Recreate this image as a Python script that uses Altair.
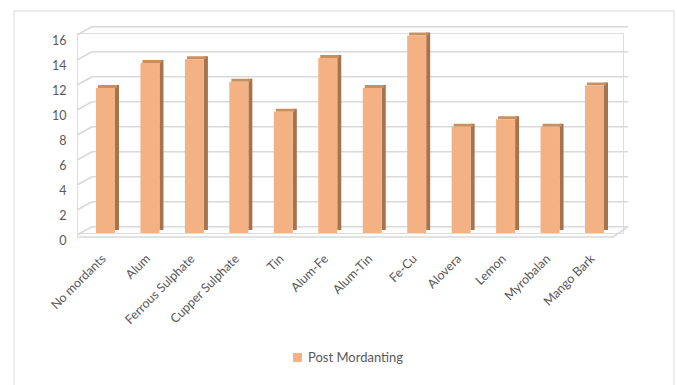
import altair as alt
import pandas as pd

categories = ["No mordants", "Alum", "Ferrous Sulphate", "Cupper Sulphate", "Tin",
              "Alum-Fe", "Alum-Tin", "Fe-Cu", "Alovera", "Lemon", "Myrobalan", "Mango Bark"]
values = [11.6, 13.6, 13.9, 12.1, 9.7, 14.0, 11.6, 15.8, 8.5, 9.1, 8.5, 11.8]
series_name = "Post Mordanting"
tick_values = [0, 2, 4, 6, 8, 10, 12, 14, 16]

df = pd.DataFrame({"cat": categories, "v": values, "series": [series_name] * len(categories)})
ticks = pd.DataFrame({"t": tick_values})
zero = pd.DataFrame({"t": [0]})
one = pd.DataFrame({"a": [1]})

FONT = "Lato"
L, T = 77, 33
W, H = 546, 200

yscale = alt.Scale(domain=[0, 16], nice=False, zero=True)
xscale = alt.Scale(domain=categories, paddingInner=0, paddingOuter=0.141)

yaxis = alt.Axis(values=tick_values, domain=False, ticks=False, grid=False,
                 labelPadding=11, labelOffset=7.5,
                 labelFont=FONT, labelFontSize=12.5, labelColor="#595959")
xaxis = alt.Axis(labelAngle=-45, domain=False, ticks=False, labelPadding=19, labelOffset=-6,
                 labelFont=FONT, labelFontSize=12.5, labelColor="#595959")

def Y(field):
    return alt.Y(field, scale=yscale, axis=yaxis, title=None)

def X():
    return alt.X("cat:N", scale=xscale, axis=xaxis, sort=categories, title=None)

border = alt.Chart(one).mark_rect(filled=False, stroke="#D9D9D9", strokeWidth=1).encode(
    x=alt.value(14 - L), x2=alt.value(674 - L), y=alt.value(11 - T), y2=alt.value(400 - T)
)

grid_back = alt.Chart(ticks).mark_rule(color="#D9D9D9", strokeWidth=1.6, yOffset=-6.3).encode(
    y=Y("t:Q"), x=alt.value(15), x2=alt.value(551),
)
grid_diag = alt.Chart(ticks).mark_rule(color="#D9D9D9", strokeWidth=1.6, yOffset=2, y2Offset=-6.3).encode(
    y=Y("t:Q"), y2="t:Q", x=alt.value(0), x2=alt.value(15),
)
floor_front = alt.Chart(zero).mark_rule(color="#D9D9D9", strokeWidth=1.6, yOffset=4).encode(
    y=Y("t:Q"), x=alt.value(0), x2=alt.value(536),
)
floor_right = alt.Chart(zero).mark_rule(color="#D9D9D9", strokeWidth=1.6, yOffset=4, y2Offset=-6.3).encode(
    y=Y("t:Q"), y2="t:Q", x=alt.value(536), x2=alt.value(551),
)

side = alt.Chart(df).mark_bar(color="#A5744D", width=4, xOffset=11.5, yOffset=-3, y2Offset=-3).encode(
    x=X(), y=Y("v:Q"), y2=alt.datum(0),
)
top = alt.Chart(df).mark_bar(color="#C8905F", width=19, xOffset=2, y2Offset=-3).encode(
    x=X(), y=Y("v:Q"), y2="v:Q",
)
front = alt.Chart(df).mark_bar(width=19).encode(
    x=X(), y=Y("v:Q"),
    color=alt.Color("series:N", scale=alt.Scale(range=["#F4B183"]),
                    legend=alt.Legend(orient="none", legendX=214, legendY=318, title=None,
                                      symbolType="square", symbolSize=81, symbolStrokeWidth=0,
                                      labelFont=FONT, labelFontSize=13, labelColor="#595959")),
)

chart = alt.layer(border, grid_back, grid_diag, floor_front, floor_right, side, top, front).properties(
    width=W, height=H,
    autosize=alt.AutoSizeParams(type="none"),
    padding={"left": L, "top": T, "right": 677 - L - W, "bottom": 385 - T - H},
).configure_view(stroke=None).configure(background="white")

chart.save("out.html", embed_options={"renderer": "svg", "actions": False})
